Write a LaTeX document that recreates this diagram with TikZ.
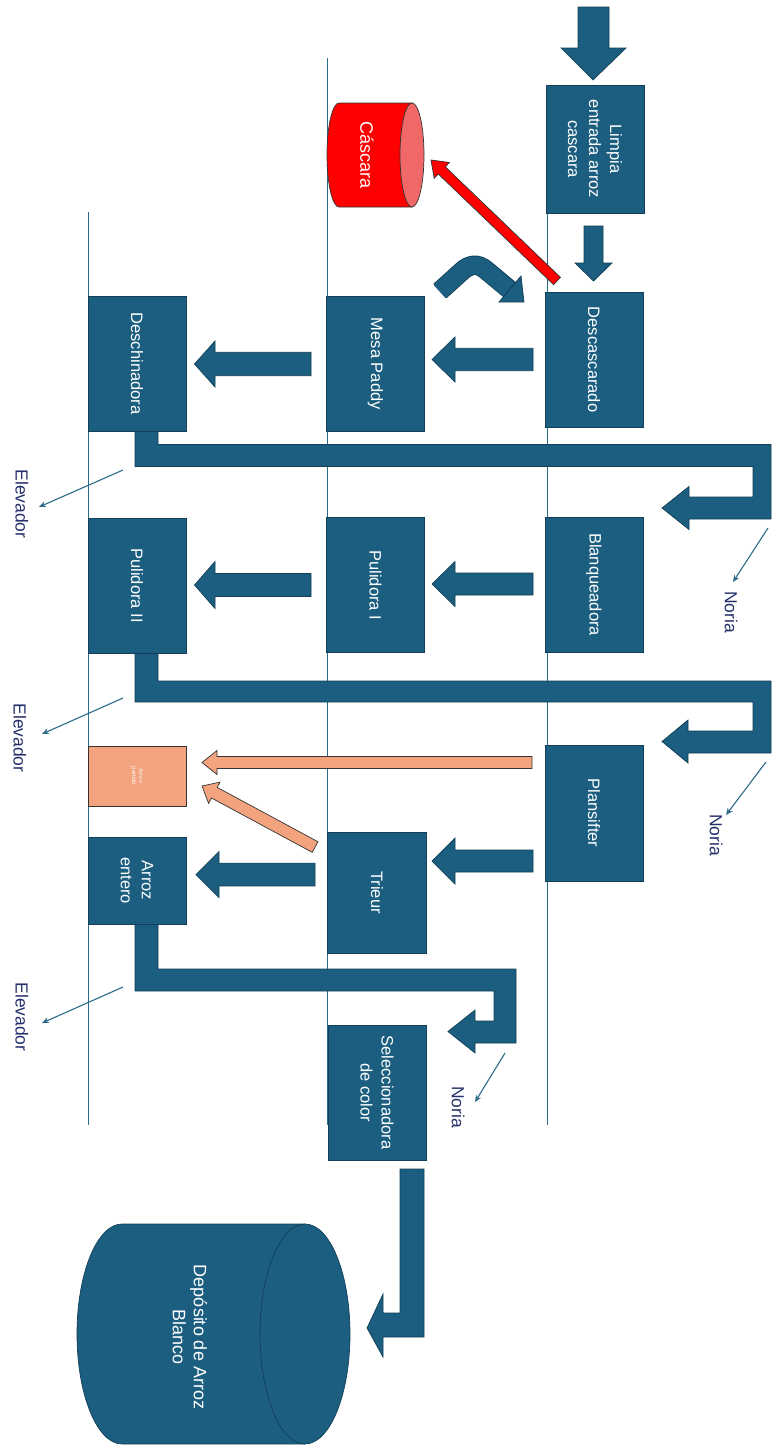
\documentclass[tikz,border=0pt]{standalone}
\usepackage{fontspec}
\setmainfont{Liberation Sans}
\usetikzlibrary{arrows.meta}
\definecolor{boxblue}{HTML}{1B5E80}
\definecolor{edgec}{HTML}{123F57}
\definecolor{salmon}{HTML}{F3A47E}
\definecolor{labelnavy}{HTML}{25306B}
\definecolor{thinc}{HTML}{2C6B8A}
\definecolor{cred}{HTML}{FF0000}
\definecolor{cpink}{HTML}{F06868}
\newcommand\blockL[7]{% style, tip x, tail x, center y, shaft half, head half, head length
  \draw[#1] (#2,#4) -- ({#2+#7},{#4-#6}) -- ({#2+#7},{#4-#5}) -- (#3,{#4-#5}) -- (#3,{#4+#5}) -- ({#2+#7},{#4+#5}) -- ({#2+#7},{#4+#6}) -- cycle;}
\begin{document}
\begin{tikzpicture}[x=1pt,y=-1pt,
  proc/.style={draw=edgec, line width=0.8pt, fill=boxblue, text=white, rotate=-90, inner sep=2pt, align=center, font=\fontsize{16.5}{21}\selectfont},
  flow/.style={draw=edgec, line width=0.7pt, fill=boxblue},
  sflow/.style={draw=black!80, line width=0.7pt, fill=salmon},
  rflow/.style={draw=black!80, line width=0.7pt, fill=cred},
  lab/.style={text=labelnavy, rotate=-90, font=\fontsize{17.5}{21}\selectfont},
  pointer/.style={draw=thinc, line width=1.1pt, -{Stealth[length=7pt,width=6pt]}},
  guide/.style={draw=thinc, line width=0.9pt}]
\useasboundingbox (0,0) rectangle (772,1446);

% guide lines
\coordinate (gA1) at (547,213); \coordinate (gA2) at (547,1125);
\coordinate (gB1) at (327,58);  \coordinate (gB2) at (327,1125);
\coordinate (gC1) at (88,212);  \coordinate (gC2) at (88,1125);
\draw[guide] (gA1) -- (gA2);
\draw[guide] (gB1) -- (gB2);
\draw[guide] (gC1) -- (gC2);

% noria pipes
\draw[flow] (135,431) -- (158,431) -- (158,444.5) -- (771,444.5) -- (771,519) -- (689,519) -- (689,529.5) -- (662,508) -- (689,486.5) -- (689,497) -- (753,497) -- (753,466.5) -- (135,466.5) -- cycle;
\draw[flow] (135,653) -- (158,653) -- (158,681) -- (771,681) -- (771,753) -- (688,753) -- (688,763) -- (662,741.5) -- (688,720) -- (688,731) -- (753,731) -- (753,702) -- (135,702) -- cycle;
\draw[flow] (135,924) -- (158,924) -- (158,969) -- (516,969) -- (516,1043) -- (475,1043) -- (475,1053) -- (448,1031.5) -- (475,1010) -- (475,1021) -- (494,1021) -- (494,991) -- (135,991) -- cycle;

% boxes
\node[proc, minimum width=128, minimum height=98] (limpia) at (595,149) {Limpia\\entrada arroz\\cascara};
\node[proc, minimum width=135, minimum height=98] (desc) at (594,359.5) {Descascarado};
\node[proc, minimum width=135, minimum height=98] (blanq) at (594,584.5) {Blanqueadora};
\node[proc, minimum width=136, minimum height=98] (plans) at (594,813) {Plansifter};
\node[proc, minimum width=135.5, minimum height=98] (mesa) at (375.5,363.8) {Mesa Paddy};
\node[proc, minimum width=135, minimum height=98] (pul1) at (375.5,585.3) {Pulidora I};
\node[proc, minimum width=121, minimum height=99] (trieur) at (377,892.5) {Trieur};
\node[proc, minimum width=135, minimum height=98] (selec) at (377,1092.5) {Seleccionadora\\de color};
\node[proc, minimum width=135, minimum height=98] (desch) at (137,363.5) {Deschinadora};
\node[proc, minimum width=135, minimum height=98] (pul2) at (137,585.5) {Pulidora II};
\node[proc, minimum width=60, minimum height=98, fill=salmon, draw=black!80, text=white!92!salmon, font=\fontsize{6}{7}\selectfont] (partido) at (137,776) {Arroz\\partido};
\node[proc, minimum width=87, minimum height=98] (entero) at (137,880.5) {Arroz\\entero};

% top arrows (down)
\draw[flow] (593,80) -- (561,48) -- (578,48) -- (578,7) -- (609,7) -- (609,48) -- (626,48) -- cycle;
\draw[flow] (593.5,281) -- (575,263) -- (584,263) -- (584,226) -- (603,226) -- (603,263) -- (612,263) -- cycle;

% left-pointing block arrows
\blockL{flow}{432}{533}{359.5}{11.2}{22.5}{23}
\blockL{flow}{194.5}{311}{364}{11.7}{23}{20.5}
\blockL{flow}{432}{533}{584}{11}{22.5}{23}
\blockL{flow}{194.5}{311}{585}{11.5}{23.5}{20.5}
\blockL{flow}{432}{533}{861}{11}{23}{23}
\blockL{flow}{196}{315}{874.5}{11.4}{23}{23}
\blockL{sflow}{202}{532}{762.5}{6}{12}{15}

% diagonal salmon arrow
\draw[sflow] (317.9,841.7) -- (217.2,787.4) -- (220.0,782.1) -- (202,786) -- (208.6,803.3) -- (211.5,798.0) -- (312.2,852.3) -- cycle;

% red arrow to Cascara
\draw[rflow] (560.5,277.4) -- (445.3,166.8) -- (449.4,162.5) -- (431,160) -- (434.2,178.3) -- (438.3,174.0) -- (553.5,284.6) -- cycle;

% curved return arrow near Descascarado
\draw[edgec, line width=19.5pt] (440,291) -- (461,272) .. controls (469,264) and (478,263) .. (486,270) -- (510,290);
\draw[boxblue, line width=17.8pt] (439.5,291.5) -- (461,272) .. controls (469,264) and (478,263) .. (486,270) -- (509,289.5);
\draw[flow] (521,276) -- (524,302) -- (499,302) -- cycle;

% Cascara cylinder
\draw[draw=black!80, line width=0.7pt, fill=cred] (412,103) -- (339,103) arc[start angle=270, end angle=90, x radius=12, y radius=52] -- (412,207) -- cycle;
\draw[draw=black!80, line width=0.7pt, fill=cpink] (412,155) ellipse[x radius=12, y radius=52];
\node[text=white, rotate=-90, font=\fontsize{18}{21}\selectfont] (cascara) at (367,155) {Cáscara};

% final arrow to deposit
\draw[flow] (400,1169) -- (424,1169) -- (424,1337) -- (383,1337) -- (383,1357) -- (367,1328) -- (383,1294) -- (383,1313) -- (400,1313) -- cycle;

% Deposito cylinder
\draw[flow] (305,1224) -- (122,1224) arc[start angle=270, end angle=90, x radius=45, y radius=110] -- (305,1444) -- cycle;
\draw[flow] (305,1334) ellipse[x radius=45, y radius=110];
\node[text=white, rotate=-90, align=center, font=\fontsize{18}{21}\selectfont] (deposito) at (190,1337) {Depósito de Arroz\\Blanco};

% labels
\node[lab] (noria1) at (731,612) {Noria};
\node[lab] (noria2) at (716,835) {Noria};
\node[lab] (noria3) at (458,1107) {Noria};
\node[lab] (elev1) at (22,504) {Elevador};
\node[lab] (elev2) at (20,738) {Elevador};
\node[lab] (elev3) at (22,1017) {Elevador};
\coordinate (n1s) at (768,528);  \coordinate (n1e) at (733,582);
\coordinate (n2s) at (766,762);  \coordinate (n2e) at (726,815);
\coordinate (n3s) at (505,1053); \coordinate (n3e) at (475,1102);
\coordinate (e1s) at (123,470);  \coordinate (e1e) at (39,507);
\coordinate (e2s) at (123,698);  \coordinate (e2e) at (42,734);
\coordinate (e3s) at (123,987);  \coordinate (e3e) at (42,1023);
\draw[pointer] (n1s) -- (n1e);
\draw[pointer] (n2s) -- (n2e);
\draw[pointer] (n3s) -- (n3e);
\draw[pointer] (e1s) -- (e1e);
\draw[pointer] (e2s) -- (e2e);
\draw[pointer] (e3s) -- (e3e);
\end{tikzpicture}
\end{document}
